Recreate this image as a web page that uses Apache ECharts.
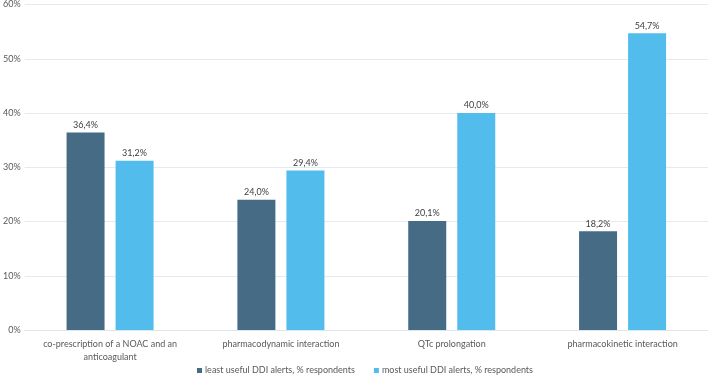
<!DOCTYPE html>
<html>
<head>
<meta charset="utf-8">
<script src="https://cdn.jsdelivr.net/npm/echarts@6/dist/echarts.min.js"></script>
<style>
  html, body { margin: 0; padding: 0; background: #fff; }
  #chart { width: 708px; height: 376px; }
</style>
</head>
<body>
<div id="chart"></div>
<script>
var categories = [
    'co-prescription of a NOAC and an\nanticoagulant',
    'pharmacodynamic interaction',
    'QTc prolongation',
    'pharmacokinetic interaction'
];
var leastUseful = [36.4, 24.0, 20.1, 18.2];
var mostUseful = [31.2, 29.4, 40.0, 54.7];
var seriesNames = ['least useful DDI alerts, % respondents', 'most useful DDI alerts, % respondents'];

var fontFamily = 'Lato, "Open Sans", sans-serif';
var textColor = '#595959';

// format 36.4 -> "36,4%"
function pct(v) {
    return v.toFixed(1).replace('.', ',') + '%';
}

var myChart = echarts.init(document.getElementById('chart'));

myChart.setOption({
    animation: false,
    textStyle: { fontFamily: fontFamily },
    grid: { left: 24, right: 0, top: 4, bottom: 46, containLabel: false },
    legend: {
        top: 366,
        left: 197,
        padding: 0,
        itemWidth: 5,
        itemHeight: 5,
        itemGap: 19,
        icon: 'rect',
        textStyle: { fontSize: 9, color: textColor, fontFamily: fontFamily, padding: [0, 0, 0, -2] },
        data: seriesNames
    },
    xAxis: {
        type: 'category',
        data: categories,
        axisLine: { lineStyle: { color: '#dde6ec' } },
        axisTick: { show: false },
        axisLabel: { fontSize: 9, color: textColor, interval: 0, lineHeight: 13, margin: 8 }
    },
    yAxis: {
        type: 'value',
        min: 0,
        max: 60,
        interval: 10,
        axisLine: { show: false },
        axisTick: { show: false },
        splitLine: { lineStyle: { color: '#e3ebf0' } },
        axisLabel: {
            fontSize: 9,
            color: textColor,
            margin: 4,
            formatter: function (v) { return v + '%'; }
        }
    },
    series: [
        {
            name: seriesNames[0],
            type: 'bar',
            data: leastUseful,
            barWidth: 38,
            barGap: '29%',
            itemStyle: { color: '#466b85' },
            label: {
                show: true,
                position: 'top',
                distance: 3,
                fontSize: 9,
                color: '#404040',
                formatter: function (p) { return pct(p.value); }
            }
        },
        {
            name: seriesNames[1],
            type: 'bar',
            data: mostUseful,
            barWidth: 38,
            itemStyle: { color: '#52bdec' },
            label: {
                show: true,
                position: 'top',
                distance: 3,
                fontSize: 9,
                color: '#404040',
                formatter: function (p) { return pct(p.value); }
            }
        }
    ]
});
</script>
</body>
</html>
